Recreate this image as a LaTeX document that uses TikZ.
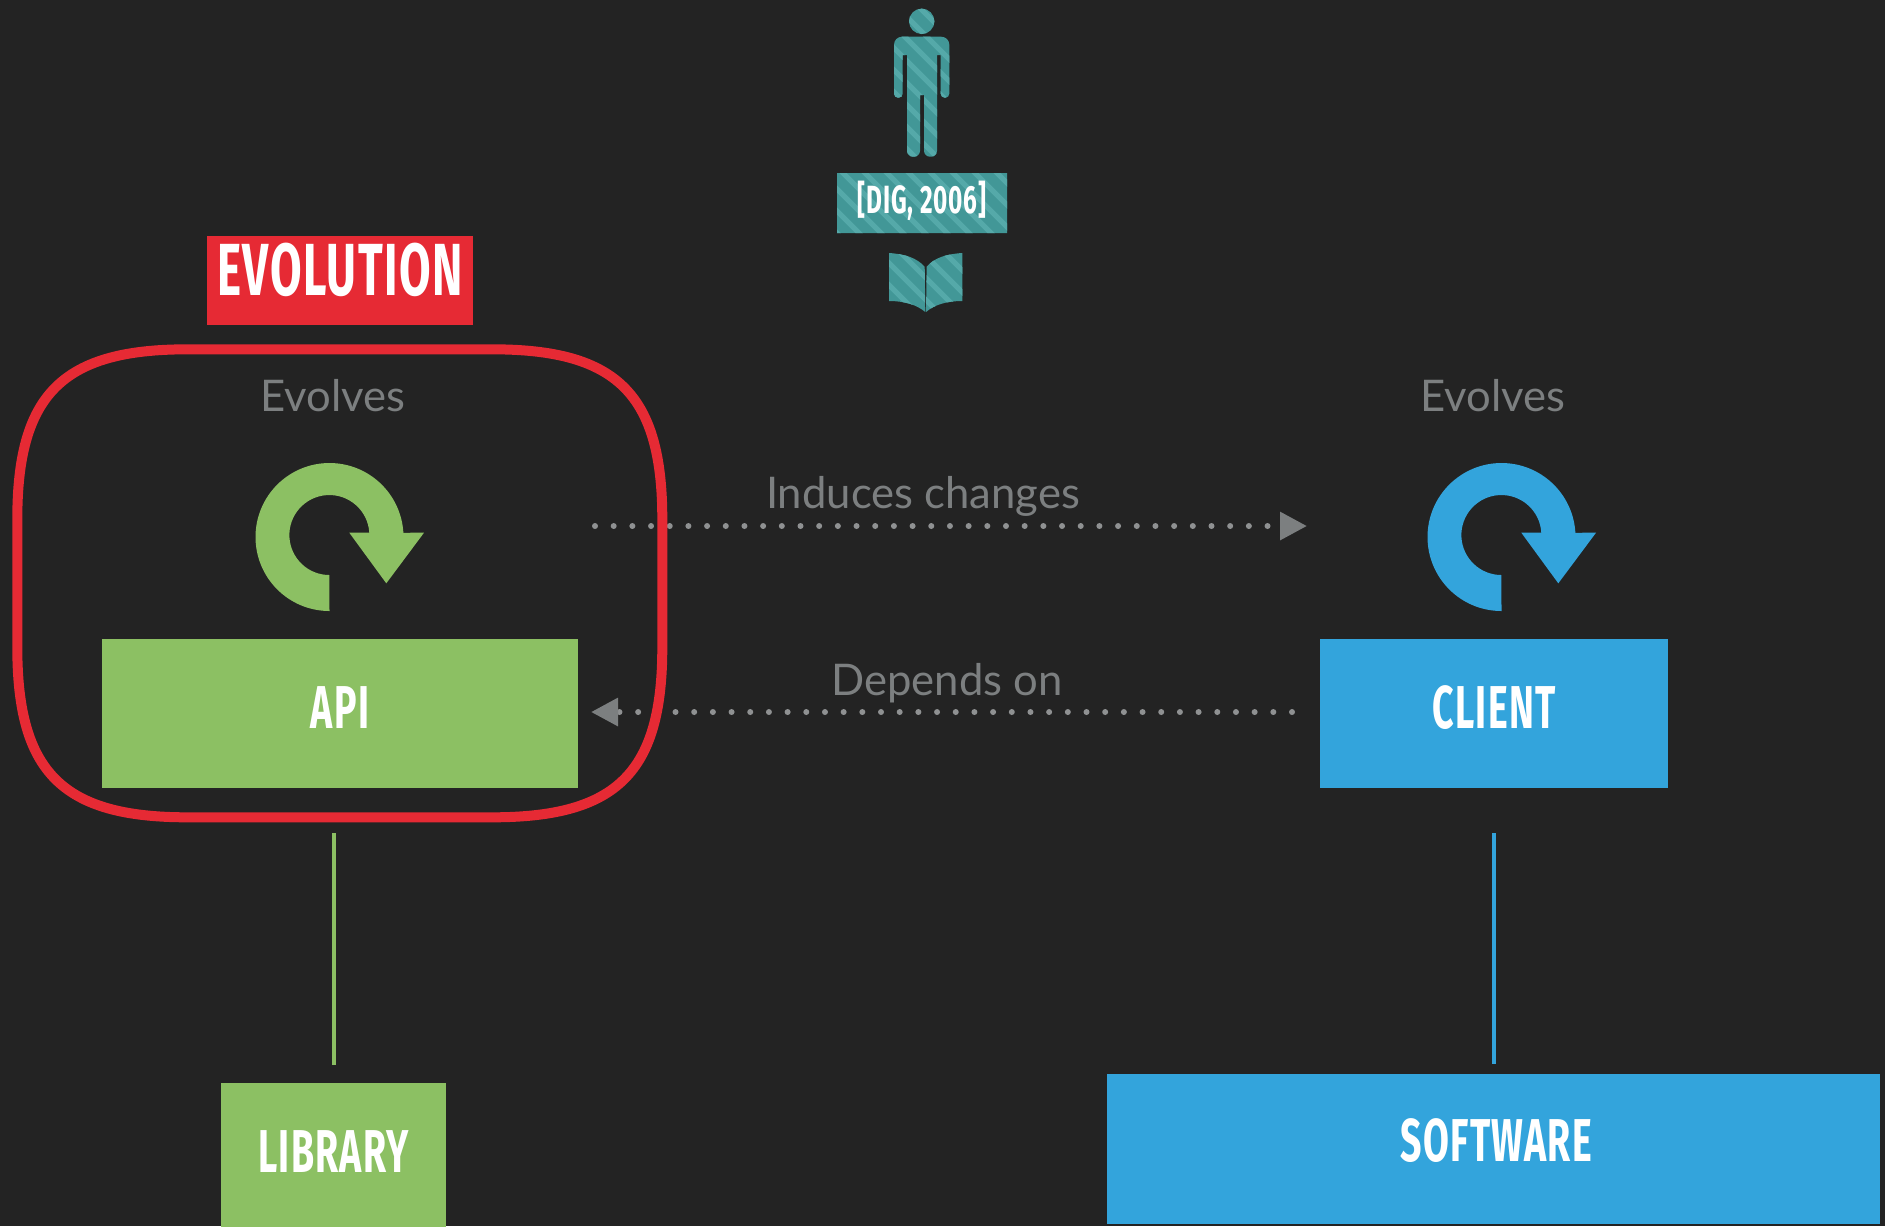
\documentclass[tikz,border=0pt]{standalone}
\usepackage{fontspec}
\usetikzlibrary{arrows.meta}
\setmainfont{Lato}
\newfontfamily\dinfont[FakeStretch=0.62,LetterSpace=2]{Fira Sans}
\definecolor{bgdark}{HTML}{232323}
\definecolor{apigreen}{HTML}{8CC063}
\definecolor{clientblue}{HTML}{33A4DC}
\definecolor{evored}{HTML}{E62A34}
\definecolor{citeteal}{HTML}{429797}
\definecolor{citelight}{HTML}{55A9A9}
\definecolor{notegrey}{HTML}{7C7F80}
\definecolor{dotgrey}{HTML}{8F9192}
\newcommand{\boxlabel}[2]{\raisebox{#1}[0pt][0pt]{#2}}
\tikzstyle{box}=[shape=rectangle, inner sep=0pt, text=white, font=\dinfont\bfseries\fontsize{17.2}{18}\selectfont]
\tikzstyle{note}=[text=notegrey, inner sep=0pt, font=\fontsize{12.4}{14}\selectfont]
\tikzstyle{dots}=[draw=dotgrey, line width=0.06cm, line cap=round, dash pattern=on 0pt off 0.1867cm, -{Triangle[length=0.27cm,width=0.27cm,color=notegrey]}]

\begin{document}
\begin{tikzpicture}[x=0.01cm, y=-0.01cm]
    \fill [bgdark] (0,0) rectangle (1885,1226);
    \useasboundingbox (0,0) rectangle (1885,1226);
    % person, citation box and book share one striped clip
    \begin{scope}
        \clip (921.7,21.3) circle [radius=12.7]
            (902.7,55) [rounded corners=0.04cm] -- (902.7,97.7) -- (894,97.7) [rounded corners=0.08cm] -- (894,36.7) -- (949.3,36.7) [rounded corners=0.04cm] -- (949.3,97.7) -- (940.7,97.7) [sharp corners] -- (940.7,55) -- (937,55) [rounded corners=0.06cm] -- (937,156.7) -- (924,156.7) [sharp corners] -- (924,95) -- (920,95) [rounded corners=0.06cm] -- (920,156.7) -- (907,156.7) [sharp corners] -- (907,55) -- cycle
            (837,173) rectangle (1007,233)
            (889,253) .. controls (905,254) and (917,258) .. (924.7,266.7) -- (925.3,312) .. controls (917,305) and (905,301) .. (889,301) -- cycle
            (962.3,253) .. controls (946,254) and (934,258) .. (926.7,266.7) -- (926,312) .. controls (934,305) and (946,301) .. (962.3,301) -- cycle;
        \fill [citeteal] (830,0) rectangle (1010,320);
        \foreach \sx in {560,582,...,1020}
            \draw [citelight, line width=0.05cm] (\sx,0) -- ++(340,340);
    \end{scope}
    \node [style=box, minimum width=1.7cm, minimum height=0.6cm, font=\dinfont\bfseries\fontsize{11.2}{12}\selectfont] (cite) at (922,203) {\boxlabel{-0.1cm}{[DIG, 2006]}};
    % main boxes
    \node [style=box, fill=apigreen, minimum width=4.76cm, minimum height=1.49cm] (api) at (340,713.5) {\boxlabel{-0.15cm}{API}};
    \node [style=box, fill=clientblue, minimum width=3.48cm, minimum height=1.49cm] (client) at (1494,713.5) {\boxlabel{-0.15cm}{CLIENT}};
    \node [style=box, fill=apigreen, minimum width=2.25cm, minimum height=1.43cm] (library) at (333.5,1155) {\boxlabel{-0.17cm}{LIBRARY}};
    \node [style=box, fill=clientblue, minimum width=7.73cm, minimum height=1.49cm] (software) at (1493.5,1149) {\hspace{0.06cm}\boxlabel{-0.125cm}{SOFTWARE}};
    \node [style=box, fill=evored, minimum width=2.66cm, minimum height=0.89cm, font=\dinfont\bfseries\fontsize{21}{24}\selectfont] (evolution) at (340,280.5) {\boxlabel{-0.152cm}{EVOLUTION}};
    % texts
    \node [style=note] (evolvesapi) at (333,396) {Evolves};
    \node [style=note] (evolvesclient) at (1493,396) {Evolves};
    \node [style=note] (induces) at (923,496.5) {Induces changes};
    \node [style=note] (depends) at (947,683.5) {Depends on};
    % loop arrows
    \foreach \ox/\col in {329.5/apigreen, 1501.5/clientblue}
        \fill [\col, shift={(\ox,537)}] (0,74) arc (90:356.7:74) -- (94.5,-4.3) -- (56.8,46.3) -- (19.8,-4.3) -- (39.8,-4.3) arc (356.7:90:40) -- cycle;
    % connectors
    \coordinate (inducesstart) at (595,526);
    \coordinate (inducesend) at (1307,526);
    \coordinate (dependsstart) at (1292,712);
    \coordinate (dependsend) at (591,712);
    \coordinate (apiline) at (333.5,833);
    \coordinate (clientline) at (1493.5,833);
    \draw [style=dots] (inducesstart) to (inducesend);
    \draw [style=dots] (dependsstart) to (dependsend);
    \draw [draw=apigreen, line width=0.04cm, shorten >=0.18cm] (apiline) to (library.north);
    \draw [draw=clientblue, line width=0.04cm, shorten >=0.1cm] (clientline) to (software.north);
    % red frame
    \draw [draw=evored, line width=0.1cm] (187.3,349.3) -- (492.3,349.3) .. controls (617.3,349.3) and (662.3,394.3) .. (662.3,519.3) -- (662.3,647.3) .. controls (662.3,772.3) and (617.3,817.3) .. (492.3,817.3) -- (187.3,817.3) .. controls (62.3,817.3) and (17.3,772.3) .. (17.3,647.3) -- (17.3,519.3) .. controls (17.3,394.3) and (62.3,349.3) .. (187.3,349.3) -- cycle;
\end{tikzpicture}
\end{document}
